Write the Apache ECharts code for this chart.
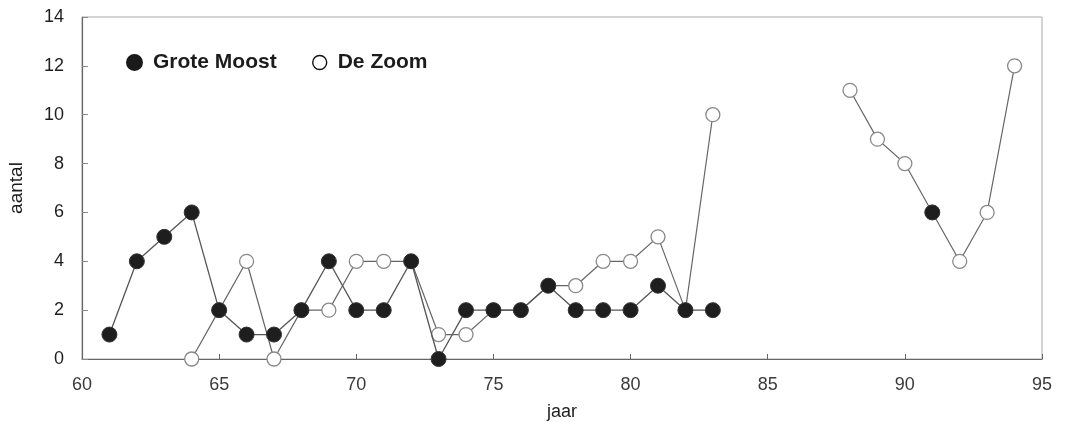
<!DOCTYPE html>
<html>
<head>
<meta charset="utf-8">
<script src="https://cdn.jsdelivr.net/npm/echarts@6/dist/echarts.min.js"></script>
<style>html,body{margin:0;padding:0;background:#fff;}#c{width:1065px;height:422px;}</style>
</head>
<body>
<div id="c"></div>
<script>
const years = [61,62,63,64,65,66,67,68,69,70,71,72,73,74,75,76,77,78,79,80,81,82,83,84,85,86,87,88,89,90,91,92,93,94];
const groteMoost = [1,4,5,6,2,1,1,2,4,2,2,4,0,2,2,2,3,2,2,2,3,2,2,null,null,null,null,null,null,null,6,null,null,null];
const deZoom = [null,null,null,0,2,4,0,2,2,4,4,4,1,1,2,2,3,3,4,4,5,2,10,null,null,null,null,11,9,8,6,4,6,12];
const xTicks = [60,65,70,75,80,85,90,95];
const yTicks = [0,2,4,6,8,10,12,14];

const font = 'Liberation Sans, Arial, sans-serif';
const chart = echarts.init(document.getElementById('c'), null, {renderer:'canvas'});
const pair = (arr) => years.map((y,i) => [y, arr[i]]);
const legendText = {fontFamily: font, fontSize: 21, fontWeight: 'bold', color: '#1c1c1c', padding: [0,0,0,6]};

chart.setOption({
  animation: false,
  backgroundColor: '#fff',
  grid: {left: 82, right: 23, top: 17, bottom: 63, show: true, borderColor: '#aaa', borderWidth: 1,
         containLabel: false, outerBoundsMode: 'none'},
  legend: [
    {
      data: [{name: 'Grote Moost', icon: 'circle', itemStyle: {color: '#1a1a1a', borderColor: '#1a1a1a'}}],
      left: 121, top: 47, itemWidth: 15, itemHeight: 15, textStyle: legendText
    },
    {
      data: [{name: 'De Zoom', icon: 'circle', itemStyle: {color: '#fff', borderColor: '#111', borderWidth: 1.4}}],
      left: 307, top: 47, itemWidth: 14, itemHeight: 14, textStyle: legendText
    }
  ],
  xAxis: {
    type: 'value', min: 60, max: 95, interval: 5,
    name: 'jaar', nameLocation: 'middle', nameGap: 44,
    nameTextStyle: {fontFamily: font, fontSize: 18, color: '#222'},
    axisLine: {show: true, lineStyle: {color: '#666', width: 1.2}},
    axisTick: {show: true, inside: true, length: 5, lineStyle: {color: '#666'}},
    axisLabel: {fontFamily: font, fontSize: 18, color: '#3a3a3a', margin: 17,
      formatter: v => xTicks.includes(v) ? String(v) : ''},
    splitLine: {show: false}
  },
  yAxis: {
    type: 'value', min: 0, max: 14, interval: 2,
    name: 'aantal', nameLocation: 'middle', nameGap: 56, nameRotate: 90,
    nameTextStyle: {fontFamily: font, fontSize: 19, color: '#1a1a1a'},
    axisLine: {show: true, lineStyle: {color: '#666', width: 1.2}},
    axisTick: {show: true, inside: true, length: 6, lineStyle: {color: '#888'}},
    axisLabel: {fontFamily: font, fontSize: 18, color: '#1e1e1e', margin: 18,
      formatter: v => yTicks.includes(v) ? String(v) : ''},
    splitLine: {show: false}
  },
  series: [
    {
      name: 'De Zoom', type: 'line', data: pair(deZoom), connectNulls: false,
      symbol: 'circle', symbolSize: 14, showSymbol: true, z: 2,
      lineStyle: {color: '#666', width: 1.2},
      itemStyle: {color: '#fff', borderColor: '#888', borderWidth: 1.3}
    },
    {
      name: 'Grote Moost', type: 'line', data: pair(groteMoost), connectNulls: false,
      symbol: 'circle', symbolSize: 15, showSymbol: true, z: 3,
      lineStyle: {color: '#555', width: 1.3},
      itemStyle: {color: '#1e1e1e', borderColor: '#333', borderWidth: 1}
    }
  ]
});
</script>
</body>
</html>
